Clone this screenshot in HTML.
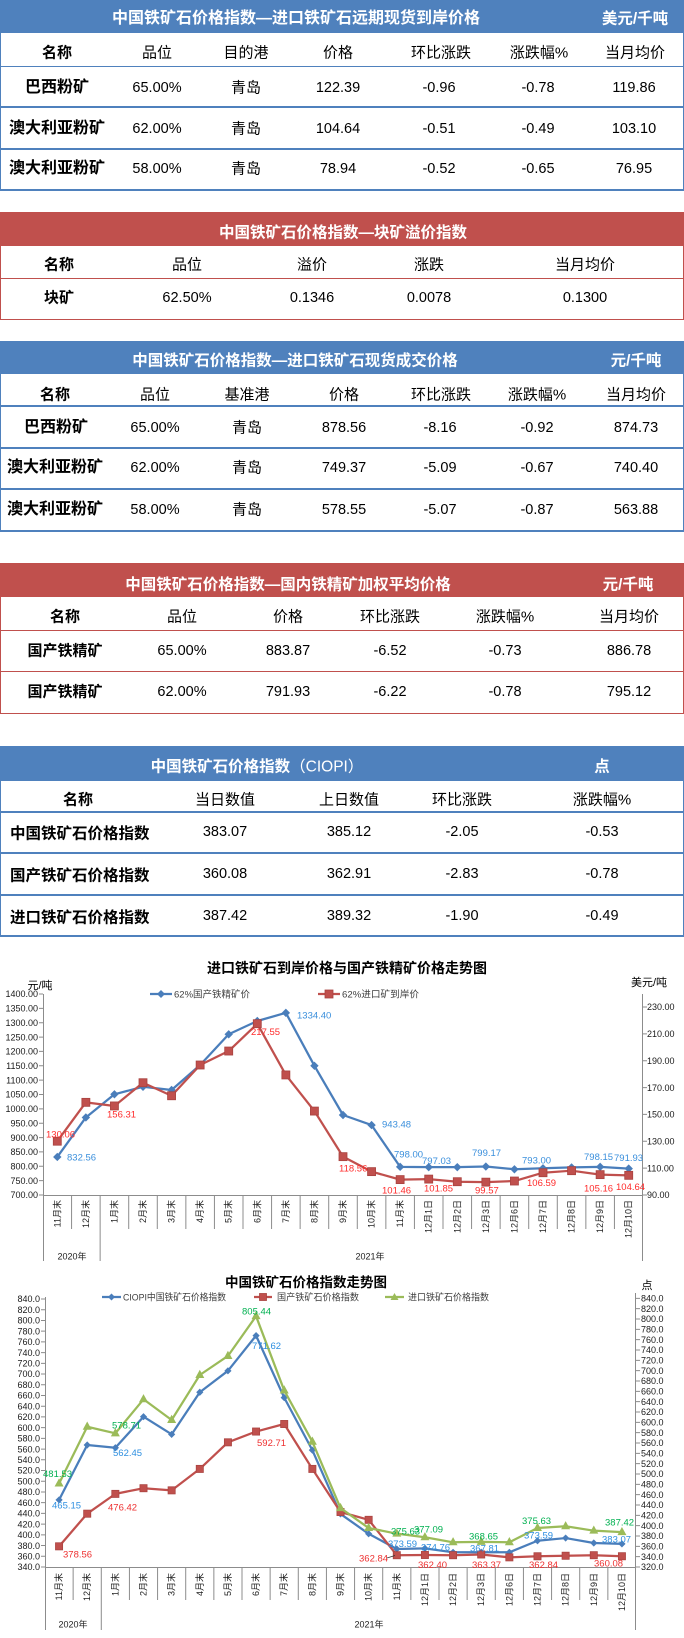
<!DOCTYPE html>
<html><head><meta charset="utf-8">
<style>
body{margin:0;background:#fff}
#p{position:relative;width:684px;height:1638px;overflow:hidden;background:#fff;font-family:"Liberation Sans","Noto Sans CJK SC",sans-serif;color:#000}
.bar{position:absolute;left:0;width:684px}
.blue{background:#4f81bd}
.red{background:#c0504d}
.bx{position:absolute;left:0;width:684px;box-sizing:border-box}
.bb{border-left:1px solid #4f81bd;border-right:1px solid #4f81bd;border-bottom:2px solid #4f81bd}
.rb{border-left:1px solid #c0504d;border-right:1px solid #c0504d;border-bottom:1px solid #c0504d}
.hl{position:absolute;left:0;width:684px}
.c{position:absolute;transform:translate(-50%,-50%);white-space:nowrap;line-height:1;font-size:15px}
.l{position:absolute;transform:translate(0,-50%);white-space:nowrap;line-height:1;font-size:15.5px;font-weight:bold}
.tt{color:#fff;font-weight:bold;font-size:15.5px}
.b{font-weight:bold}
.n{font-size:14.5px}
</style></head><body><div id="p">

<!-- Table 1 -->
<div class="bar blue" style="top:0;height:33px"></div>
<div class="bx bb" style="top:33px;height:158px"></div>
<div class="hl" style="top:66px;height:1px;background:#4f81bd"></div>
<div class="hl" style="top:106px;height:2px;background:#4f81bd"></div>
<div class="hl" style="top:148px;height:2px;background:#4f81bd"></div>
<div class="c tt" style="left:296px;top:19px;font-size:16px">中国铁矿石价格指数—进口铁矿石远期现货到岸价格</div>
<div class="c tt" style="left:635px;top:19px">美元/千吨</div>
<div class="c b" style="left:57px;top:53px">名称</div>
<div class="c" style="left:157px;top:53px">品位</div>
<div class="c" style="left:246px;top:53px">目的港</div>
<div class="c" style="left:338px;top:53px">价格</div>
<div class="c" style="left:441px;top:53px">环比涨跌</div>
<div class="c" style="left:539px;top:53px">涨跌幅%</div>
<div class="c" style="left:635px;top:53px">当月均价</div>
<div class="c b" style="left:57px;top:88px;font-size:16px">巴西粉矿</div>
<div class="c n" style="left:157px;top:88px">65.00%</div>
<div class="c" style="left:246px;top:88px">青岛</div>
<div class="c n" style="left:338px;top:88px">122.39</div>
<div class="c n" style="left:439px;top:88px">-0.96</div>
<div class="c n" style="left:538px;top:88px">-0.78</div>
<div class="c n" style="left:634px;top:88px">119.86</div>
<div class="c b" style="left:57px;top:129px;font-size:16px">澳大利亚粉矿</div>
<div class="c n" style="left:157px;top:129px">62.00%</div>
<div class="c" style="left:246px;top:129px">青岛</div>
<div class="c n" style="left:338px;top:129px">104.64</div>
<div class="c n" style="left:439px;top:129px">-0.51</div>
<div class="c n" style="left:538px;top:129px">-0.49</div>
<div class="c n" style="left:634px;top:129px">103.10</div>
<div class="c b" style="left:57px;top:169px;font-size:16px">澳大利亚粉矿</div>
<div class="c n" style="left:157px;top:169px">58.00%</div>
<div class="c" style="left:246px;top:169px">青岛</div>
<div class="c n" style="left:338px;top:169px">78.94</div>
<div class="c n" style="left:439px;top:169px">-0.52</div>
<div class="c n" style="left:538px;top:169px">-0.65</div>
<div class="c n" style="left:634px;top:169px">76.95</div>

<!-- Table 2 -->
<div class="bar red" style="top:212px;height:34px"></div>
<div class="bx rb" style="top:246px;height:74px"></div>
<div class="hl" style="top:278px;height:1px;background:#c0504d"></div>
<div class="c tt" style="left:343px;top:233px">中国铁矿石价格指数—块矿溢价指数</div>
<div class="c b" style="left:59px;top:265px">名称</div>
<div class="c" style="left:187px;top:265px">品位</div>
<div class="c" style="left:312px;top:265px">溢价</div>
<div class="c" style="left:429px;top:265px">涨跌</div>
<div class="c" style="left:585px;top:265px">当月均价</div>
<div class="c b" style="left:59px;top:298px">块矿</div>
<div class="c n" style="left:187px;top:298px">62.50%</div>
<div class="c n" style="left:312px;top:298px">0.1346</div>
<div class="c n" style="left:429px;top:298px">0.0078</div>
<div class="c n" style="left:585px;top:298px">0.1300</div>

<!-- Table 3 -->
<div class="bar blue" style="top:341px;height:33px"></div>
<div class="bx bb" style="top:374px;height:158px"></div>
<div class="hl" style="top:405px;height:2px;background:#4f81bd"></div>
<div class="hl" style="top:447px;height:2px;background:#4f81bd"></div>
<div class="hl" style="top:488px;height:2px;background:#4f81bd"></div>
<div class="c tt" style="left:295px;top:361px">中国铁矿石价格指数—进口铁矿石现货成交价格</div>
<div class="c tt" style="left:636px;top:361px">元/千吨</div>
<div class="c b" style="left:55px;top:395px">名称</div>
<div class="c" style="left:155px;top:395px">品位</div>
<div class="c" style="left:247px;top:395px">基准港</div>
<div class="c" style="left:344px;top:395px">价格</div>
<div class="c" style="left:441px;top:395px">环比涨跌</div>
<div class="c" style="left:537px;top:395px">涨跌幅%</div>
<div class="c" style="left:636px;top:395px">当月均价</div>
<div class="c b" style="left:56px;top:428px;font-size:16px">巴西粉矿</div>
<div class="c n" style="left:155px;top:428px">65.00%</div>
<div class="c" style="left:247px;top:428px">青岛</div>
<div class="c n" style="left:344px;top:428px">878.56</div>
<div class="c n" style="left:440px;top:428px">-8.16</div>
<div class="c n" style="left:537px;top:428px">-0.92</div>
<div class="c n" style="left:636px;top:428px">874.73</div>
<div class="c b" style="left:55px;top:468px;font-size:16px">澳大利亚粉矿</div>
<div class="c n" style="left:155px;top:468px">62.00%</div>
<div class="c" style="left:247px;top:468px">青岛</div>
<div class="c n" style="left:344px;top:468px">749.37</div>
<div class="c n" style="left:440px;top:468px">-5.09</div>
<div class="c n" style="left:537px;top:468px">-0.67</div>
<div class="c n" style="left:636px;top:468px">740.40</div>
<div class="c b" style="left:55px;top:510px;font-size:16px">澳大利亚粉矿</div>
<div class="c n" style="left:155px;top:510px">58.00%</div>
<div class="c" style="left:247px;top:510px">青岛</div>
<div class="c n" style="left:344px;top:510px">578.55</div>
<div class="c n" style="left:440px;top:510px">-5.07</div>
<div class="c n" style="left:537px;top:510px">-0.87</div>
<div class="c n" style="left:636px;top:510px">563.88</div>

<!-- Table 4 -->
<div class="bar red" style="top:563px;height:34px"></div>
<div class="bx rb" style="top:597px;height:117px"></div>
<div class="hl" style="top:630px;height:1px;background:#c0504d"></div>
<div class="hl" style="top:671px;height:1px;background:#c0504d"></div>
<div class="c tt" style="left:288px;top:585px">中国铁矿石价格指数—国内铁精矿加权平均价格</div>
<div class="c tt" style="left:628px;top:585px">元/千吨</div>
<div class="c b" style="left:65px;top:617px">名称</div>
<div class="c" style="left:182px;top:617px">品位</div>
<div class="c" style="left:288px;top:617px">价格</div>
<div class="c" style="left:390px;top:617px">环比涨跌</div>
<div class="c" style="left:505px;top:617px">涨跌幅%</div>
<div class="c" style="left:629px;top:617px">当月均价</div>
<div class="c b" style="left:65px;top:651px">国产铁精矿</div>
<div class="c n" style="left:182px;top:651px">65.00%</div>
<div class="c n" style="left:288px;top:651px">883.87</div>
<div class="c n" style="left:390px;top:651px">-6.52</div>
<div class="c n" style="left:505px;top:651px">-0.73</div>
<div class="c n" style="left:629px;top:651px">886.78</div>
<div class="c b" style="left:65px;top:692px">国产铁精矿</div>
<div class="c n" style="left:182px;top:692px">62.00%</div>
<div class="c n" style="left:288px;top:692px">791.93</div>
<div class="c n" style="left:390px;top:692px">-6.22</div>
<div class="c n" style="left:505px;top:692px">-0.78</div>
<div class="c n" style="left:629px;top:692px">795.12</div>

<!-- Table 5 -->
<div class="bar blue" style="top:746px;height:35px"></div>
<div class="bx bb" style="top:781px;height:156px"></div>
<div class="hl" style="top:811px;height:2px;background:#4f81bd"></div>
<div class="hl" style="top:852px;height:2px;background:#4f81bd"></div>
<div class="hl" style="top:894px;height:2px;background:#4f81bd"></div>
<div class="c tt" style="left:257px;top:767px">中国铁矿石价格指数<span style="font-weight:normal">（CIOPI）</span></div>
<div class="c tt" style="left:602px;top:767px">点</div>
<div class="c b" style="left:78px;top:800px">名称</div>
<div class="c" style="left:225px;top:800px">当日数值</div>
<div class="c" style="left:349px;top:800px">上日数值</div>
<div class="c" style="left:462px;top:800px">环比涨跌</div>
<div class="c" style="left:602px;top:800px">涨跌幅%</div>
<div class="l" style="left:10px;top:834px">中国铁矿石价格指数</div>
<div class="c n" style="left:225px;top:832px">383.07</div>
<div class="c n" style="left:349px;top:832px">385.12</div>
<div class="c n" style="left:462px;top:832px">-2.05</div>
<div class="c n" style="left:602px;top:832px">-0.53</div>
<div class="l" style="left:10px;top:876px">国产铁矿石价格指数</div>
<div class="c n" style="left:225px;top:874px">360.08</div>
<div class="c n" style="left:349px;top:874px">362.91</div>
<div class="c n" style="left:462px;top:874px">-2.83</div>
<div class="c n" style="left:602px;top:874px">-0.78</div>
<div class="l" style="left:10px;top:918px">进口铁矿石价格指数</div>
<div class="c n" style="left:225px;top:916px">387.42</div>
<div class="c n" style="left:349px;top:916px">389.32</div>
<div class="c n" style="left:462px;top:916px">-1.90</div>
<div class="c n" style="left:602px;top:916px">-0.49</div>

<svg width="684" height="1638" style="position:absolute;left:0;top:0" font-family="Liberation Sans, Noto Sans CJK SC, sans-serif">
<defs>
<marker id="md" markerUnits="userSpaceOnUse" markerWidth="10" markerHeight="10" refX="5" refY="5" viewBox="0 0 10 10"><path d="M5,0.8 L9.2,5 5,9.2 0.8,5Z" fill="#4a7ebb"/></marker>
<marker id="md2" markerUnits="userSpaceOnUse" markerWidth="8" markerHeight="8" refX="5" refY="5" viewBox="0 0 10 10"><path d="M5,0.5 L9.5,5 5,9.5 0.5,5Z" fill="#4a7ebb"/></marker>
<marker id="ms" markerUnits="userSpaceOnUse" markerWidth="10" markerHeight="10" refX="5" refY="5" viewBox="0 0 10 10"><rect x="1" y="1" width="8" height="8" fill="#c0504d" stroke="#a8423f" stroke-width="0.8"/></marker>
<marker id="ms2" markerUnits="userSpaceOnUse" markerWidth="9" markerHeight="9" refX="5" refY="5" viewBox="0 0 10 10"><rect x="1" y="1" width="8" height="8" fill="#c0504d" stroke="#a8423f" stroke-width="0.8"/></marker>
<marker id="mt" markerUnits="userSpaceOnUse" markerWidth="10" markerHeight="10" refX="5" refY="6" viewBox="0 0 10 10"><path d="M5,0.8 L9.5,9 0.5,9Z" fill="#9bbb59"/></marker>
</defs>

<!-- ============ CHART 1 ============ -->
<text x="347" y="973" text-anchor="middle" font-size="14" font-weight="bold" fill="#000">进口铁矿石到岸价格与国产铁精矿价格走势图</text>
<text x="40" y="989" text-anchor="middle" font-size="11" fill="#000">元/吨</text>
<text x="649" y="986" text-anchor="middle" font-size="11" fill="#000">美元/吨</text>
<!-- legend -->
<line x1="150" y1="994" x2="172" y2="994" stroke="#4a7ebb" stroke-width="2.25"/>
<path d="M161,990 L165,994 161,998 157,994Z" fill="#4a7ebb"/>
<text x="174" y="997.5" font-size="9.5" fill="#404040" textLength="76" lengthAdjust="spacingAndGlyphs">62%国产铁精矿价</text>
<line x1="318" y1="994" x2="340" y2="994" stroke="#c0504d" stroke-width="2.25"/>
<rect x="325" y="990" width="8" height="8" fill="#c0504d" stroke="#a8423f" stroke-width="0.8"/>
<text x="342" y="997.5" font-size="9.5" fill="#404040" textLength="77" lengthAdjust="spacingAndGlyphs">62%进口矿到岸价</text>
<!-- axes -->
<g stroke="#8c8c8c" stroke-width="1" fill="none">
<path d="M43.5,994V1261M642.5,994V1261M43,1195.5H643M100.14,1195V1261"/>
<path d="M71.57,1195V1229M128.71,1195V1229M157.29,1195V1229M185.86,1195V1229M214.43,1195V1229M243,1195V1229M271.57,1195V1229M300.14,1195V1229M328.71,1195V1229M357.29,1195V1229M385.86,1195V1229M414.43,1195V1229M443,1195V1229M471.57,1195V1229M500.14,1195V1229M528.71,1195V1229M557.29,1195V1229M585.86,1195V1229M614.43,1195V1229"/>
<path d="M39,994H43M39,1008.36H43M39,1022.72H43M39,1037.07H43M39,1051.43H43M39,1065.79H43M39,1080.14H43M39,1094.5H43M39,1108.86H43M39,1123.22H43M39,1137.57H43M39,1151.93H43M39,1166.29H43M39,1180.64H43M39,1195H43"/>
<path d="M643,1195H647M643,1168.14H647M643,1141.28H647M643,1114.43H647M643,1087.57H647M643,1060.71H647M643,1033.86H647M643,1007H647"/>
</g>
<g font-size="9" fill="#1a1a1a" text-anchor="end">
<text x="38" y="997.2">1400.00</text><text x="38" y="1011.6">1350.00</text><text x="38" y="1025.9">1300.00</text><text x="38" y="1040.3">1250.00</text><text x="38" y="1054.6">1200.00</text><text x="38" y="1069">1150.00</text><text x="38" y="1083.3">1100.00</text><text x="38" y="1097.7">1050.00</text><text x="38" y="1112.1">1000.00</text><text x="38" y="1126.4">950.00</text><text x="38" y="1140.8">900.00</text><text x="38" y="1155.1">850.00</text><text x="38" y="1169.5">800.00</text><text x="38" y="1183.8">750.00</text><text x="38" y="1198.2">700.00</text>
</g>
<g font-size="9" fill="#1a1a1a">
<text x="647" y="1198.2">90.00</text><text x="647" y="1171.3">110.00</text><text x="647" y="1144.5">130.00</text><text x="647" y="1117.6">150.00</text><text x="647" y="1090.8">170.00</text><text x="647" y="1063.9">190.00</text><text x="647" y="1037.1">210.00</text><text x="647" y="1010.2">230.00</text>
</g>
<g font-size="9" fill="#222" text-anchor="end" dominant-baseline="central">
<text transform="translate(57.29,1200) rotate(-90)">11月末</text>
<text transform="translate(85.86,1200) rotate(-90)">12月末</text>
<text transform="translate(114.43,1200) rotate(-90)">1月末</text>
<text transform="translate(143,1200) rotate(-90)">2月末</text>
<text transform="translate(171.57,1200) rotate(-90)">3月末</text>
<text transform="translate(200.14,1200) rotate(-90)">4月末</text>
<text transform="translate(228.71,1200) rotate(-90)">5月末</text>
<text transform="translate(257.29,1200) rotate(-90)">6月末</text>
<text transform="translate(285.86,1200) rotate(-90)">7月末</text>
<text transform="translate(314.43,1200) rotate(-90)">8月末</text>
<text transform="translate(343,1200) rotate(-90)">9月末</text>
<text transform="translate(371.57,1200) rotate(-90)">10月末</text>
<text transform="translate(400.14,1200) rotate(-90)">11月末</text>
<text transform="translate(428.71,1200) rotate(-90)">12月1日</text>
<text transform="translate(457.29,1200) rotate(-90)">12月2日</text>
<text transform="translate(485.86,1200) rotate(-90)">12月3日</text>
<text transform="translate(514.43,1200) rotate(-90)">12月6日</text>
<text transform="translate(543,1200) rotate(-90)">12月7日</text>
<text transform="translate(571.57,1200) rotate(-90)">12月8日</text>
<text transform="translate(600.14,1200) rotate(-90)">12月9日</text>
<text transform="translate(628.71,1200) rotate(-90)">12月10日</text>
</g>
<text x="72" y="1259.5" font-size="9" fill="#222" text-anchor="middle">2020年</text>
<text x="370" y="1259.5" font-size="9" fill="#222" text-anchor="middle">2021年</text>
<!-- series -->
<polyline fill="none" stroke="#4a7ebb" stroke-width="2.25" stroke-linejoin="round" marker-start="url(#md)" marker-mid="url(#md)" marker-end="url(#md)" points="57.29,1156.94 85.86,1117.47 114.43,1094.3 143,1086.75 171.57,1089.99 200.14,1064.98 228.71,1034.29 257.29,1020.99 285.86,1012.84 314.43,1065.79 343,1115 371.57,1125.09 400.14,1166.86 428.71,1167.14 457.29,1167.15 485.86,1166.52 514.43,1169.3 543,1168.3 571.57,1167.43 600.14,1166.82 628.71,1168.6"/>
<polyline fill="none" stroke="#c0504d" stroke-width="2.25" stroke-linejoin="round" marker-start="url(#ms)" marker-mid="url(#ms)" marker-end="url(#ms)" points="57.29,1141.2 85.86,1102.34 114.43,1105.95 143,1082.73 171.57,1095.76 200.14,1065.01 228.71,1051.04 257.29,1023.71 285.86,1074.94 314.43,1111.07 343,1156.65 371.57,1171.63 400.14,1179.61 428.71,1179.09 457.29,1181.71 485.86,1182.15 514.43,1181.03 543,1172.72 571.57,1170.69 600.14,1174.64 628.71,1175.34"/>
<g font-size="9.5" fill="#3a8fdc">
<text x="67" y="1160.3">832.56</text>
<text x="297" y="1018.3">1334.40</text>
<text x="382" y="1127.3">943.48</text>
<text x="394" y="1157.3">798.00</text>
<text x="422" y="1164">797.03</text>
<text x="472" y="1156">799.17</text>
<text x="522" y="1163.3">793.00</text>
<text x="584" y="1160">798.15</text>
<text x="614" y="1161">791.93</text>
</g>
<g font-size="9.5" fill="#ff2a2a">
<text x="46" y="1137.3">130.06</text>
<text x="107" y="1117.3">156.31</text>
<text x="251" y="1035">217.55</text>
<text x="339" y="1171.3">118.56</text>
<text x="382" y="1193.3">101.46</text>
<text x="424" y="1191.6">101.85</text>
<text x="475" y="1193.3">99.57</text>
<text x="527" y="1186">106.59</text>
<text x="584" y="1191.6">105.16</text>
<text x="616" y="1190">104.64</text>
</g>

<!-- ============ CHART 2 ============ -->
<text x="306" y="1287" text-anchor="middle" font-size="13.5" font-weight="bold" fill="#000">中国铁矿石价格指数走势图</text>
<text x="647" y="1289" text-anchor="middle" font-size="11" fill="#000">点</text>
<!-- legend -->
<line x1="102" y1="1297" x2="121" y2="1297" stroke="#4a7ebb" stroke-width="2.25"/>
<path d="M111.5,1293.5 L115,1297 111.5,1300.5 108,1297Z" fill="#4a7ebb"/>
<text x="123" y="1300.4" font-size="9.5" fill="#404040" textLength="103" lengthAdjust="spacingAndGlyphs">CIOPI中国铁矿石价格指数</text>
<line x1="254" y1="1297" x2="272" y2="1297" stroke="#c0504d" stroke-width="2.25"/>
<rect x="259.5" y="1293.5" width="7" height="7" fill="#c0504d" stroke="#a8423f" stroke-width="0.8"/>
<text x="277" y="1300.4" font-size="9.5" fill="#404040" textLength="82" lengthAdjust="spacingAndGlyphs">国产铁矿石价格指数</text>
<line x1="385" y1="1297" x2="404" y2="1297" stroke="#9bbb59" stroke-width="2.25"/>
<path d="M394.5,1293 L398.5,1300 390.5,1300Z" fill="#9bbb59"/>
<text x="408" y="1300.4" font-size="9.5" fill="#404040" textLength="81" lengthAdjust="spacingAndGlyphs">进口铁矿石价格指数</text>
<!-- axes -->
<g stroke="#8c8c8c" stroke-width="1" fill="none">
<path d="M45.5,1297V1630M635.5,1293V1630M45,1567.5H636M101.29,1567V1630"/>
<path d="M73.14,1567V1600M129.43,1567V1600M157.57,1567V1600M185.71,1567V1600M213.86,1567V1600M242,1567V1600M270.14,1567V1600M298.29,1567V1600M326.43,1567V1600M354.57,1567V1600M382.71,1567V1600M410.86,1567V1600M439,1567V1600M467.14,1567V1600M495.29,1567V1600M523.43,1567V1600M551.57,1567V1600M579.71,1567V1600M607.86,1567V1600"/>
<path d="M41,1299H45M41,1309.72H45M41,1320.44H45M41,1331.16H45M41,1341.88H45M41,1352.6H45M41,1363.32H45M41,1374.04H45M41,1384.76H45M41,1395.48H45M41,1406.2H45M41,1416.92H45M41,1427.64H45M41,1438.36H45M41,1449.08H45M41,1459.8H45M41,1470.52H45M41,1481.24H45M41,1491.96H45M41,1502.68H45M41,1513.4H45M41,1524.12H45M41,1534.84H45M41,1545.56H45M41,1556.28H45M41,1567H45"/>
<path d="M636,1298.32H640M636,1308.65H640M636,1318.99H640M636,1329.32H640M636,1339.65H640M636,1349.99H640M636,1360.32H640M636,1370.65H640M636,1380.99H640M636,1391.32H640M636,1401.66H640M636,1411.99H640M636,1422.32H640M636,1432.66H640M636,1442.99H640M636,1453.33H640M636,1463.66H640M636,1473.99H640M636,1484.33H640M636,1494.66H640M636,1504.99H640M636,1515.33H640M636,1525.66H640M636,1535.99H640M636,1546.33H640M636,1556.66H640M636,1567H640"/>
</g>
<g font-size="9" fill="#1a1a1a" text-anchor="end">
<text x="40" y="1302.2">840.0</text><text x="40" y="1312.9">820.0</text><text x="40" y="1323.6">800.0</text><text x="40" y="1334.4">780.0</text><text x="40" y="1345.1">760.0</text><text x="40" y="1355.8">740.0</text><text x="40" y="1366.5">720.0</text><text x="40" y="1377.2">700.0</text><text x="40" y="1388">680.0</text><text x="40" y="1398.7">660.0</text><text x="40" y="1409.4">640.0</text><text x="40" y="1420.1">620.0</text><text x="40" y="1430.8">600.0</text><text x="40" y="1441.6">580.0</text><text x="40" y="1452.3">560.0</text><text x="40" y="1463">540.0</text><text x="40" y="1473.7">520.0</text><text x="40" y="1484.4">500.0</text><text x="40" y="1495.2">480.0</text><text x="40" y="1505.9">460.0</text><text x="40" y="1516.6">440.0</text><text x="40" y="1527.3">420.0</text><text x="40" y="1538">400.0</text><text x="40" y="1548.8">380.0</text><text x="40" y="1559.5">360.0</text><text x="40" y="1570.2">340.0</text>
</g>
<g font-size="9" fill="#1a1a1a">
<text x="641" y="1301.5">840.0</text><text x="641" y="1311.9">820.0</text><text x="641" y="1322.2">800.0</text><text x="641" y="1332.5">780.0</text><text x="641" y="1342.9">760.0</text><text x="641" y="1353.2">740.0</text><text x="641" y="1363.5">720.0</text><text x="641" y="1373.9">700.0</text><text x="641" y="1384.2">680.0</text><text x="641" y="1394.5">660.0</text><text x="641" y="1404.9">640.0</text><text x="641" y="1415.2">620.0</text><text x="641" y="1425.5">600.0</text><text x="641" y="1435.9">580.0</text><text x="641" y="1446.2">560.0</text><text x="641" y="1456.5">540.0</text><text x="641" y="1466.9">520.0</text><text x="641" y="1477.2">500.0</text><text x="641" y="1487.5">480.0</text><text x="641" y="1497.9">460.0</text><text x="641" y="1508.2">440.0</text><text x="641" y="1518.5">420.0</text><text x="641" y="1528.9">400.0</text><text x="641" y="1539.2">380.0</text><text x="641" y="1549.5">360.0</text><text x="641" y="1559.9">340.0</text><text x="641" y="1570.2">320.0</text>
</g>
<g font-size="9" fill="#222" text-anchor="end" dominant-baseline="central">
<text transform="translate(59.07,1573) rotate(-90)">11月末</text>
<text transform="translate(87.21,1573) rotate(-90)">12月末</text>
<text transform="translate(115.36,1573) rotate(-90)">1月末</text>
<text transform="translate(143.5,1573) rotate(-90)">2月末</text>
<text transform="translate(171.64,1573) rotate(-90)">3月末</text>
<text transform="translate(199.79,1573) rotate(-90)">4月末</text>
<text transform="translate(227.93,1573) rotate(-90)">5月末</text>
<text transform="translate(256.07,1573) rotate(-90)">6月末</text>
<text transform="translate(284.21,1573) rotate(-90)">7月末</text>
<text transform="translate(312.36,1573) rotate(-90)">8月末</text>
<text transform="translate(340.5,1573) rotate(-90)">9月末</text>
<text transform="translate(368.64,1573) rotate(-90)">10月末</text>
<text transform="translate(396.79,1573) rotate(-90)">11月末</text>
<text transform="translate(424.93,1573) rotate(-90)">12月1日</text>
<text transform="translate(453.07,1573) rotate(-90)">12月2日</text>
<text transform="translate(481.21,1573) rotate(-90)">12月3日</text>
<text transform="translate(509.36,1573) rotate(-90)">12月6日</text>
<text transform="translate(537.5,1573) rotate(-90)">12月7日</text>
<text transform="translate(565.64,1573) rotate(-90)">12月8日</text>
<text transform="translate(593.79,1573) rotate(-90)">12月9日</text>
<text transform="translate(621.93,1573) rotate(-90)">12月10日</text>
</g>
<text x="73" y="1627.5" font-size="9" fill="#222" text-anchor="middle">2020年</text>
<text x="369" y="1627.5" font-size="9" fill="#222" text-anchor="middle">2021年</text>
<!-- series -->
<polyline fill="none" stroke="#4a7ebb" stroke-width="2.25" stroke-linejoin="round" marker-start="url(#md2)" marker-mid="url(#md2)" marker-end="url(#md2)" points="59.07,1499.92 87.21,1445 115.36,1447.77 143.5,1416.71 171.64,1434.34 199.79,1392.26 227.93,1370.82 256.07,1335.65 284.21,1397.62 312.36,1450.15 340.5,1513.94 368.64,1533.77 396.79,1549 424.93,1548.37 453.07,1552.31 481.21,1552.26 509.36,1552.31 537.5,1540.74 565.64,1538.06 593.79,1542.99 621.93,1543.91"/>
<polyline fill="none" stroke="#c0504d" stroke-width="2.25" stroke-linejoin="round" marker-start="url(#ms2)" marker-mid="url(#ms2)" marker-end="url(#ms2)" points="59.07,1546.33 87.21,1513.67 115.36,1493.88 143.5,1488.21 171.64,1490.35 199.79,1468.91 227.93,1442.33 256.07,1431.55 284.21,1424 312.36,1468.91 340.5,1512.01 368.64,1519.83 396.79,1555.21 424.93,1554.99 453.07,1555.21 481.21,1554.47 509.36,1557.35 537.5,1556.28 565.64,1555.74 593.79,1555.21 621.93,1556.24"/>
<polyline fill="none" stroke="#9bbb59" stroke-width="2.25" stroke-linejoin="round" marker-start="url(#mt)" marker-mid="url(#mt)" marker-end="url(#mt)" points="59.07,1483.54 87.21,1426.72 115.36,1433.33 143.5,1399.28 171.64,1420 199.79,1375 227.93,1355.98 256.07,1316.17 284.21,1390.44 312.36,1441.7 340.5,1508.1 368.64,1527.99 396.79,1533.67 424.93,1537.29 453.07,1542.3 481.21,1541.86 509.36,1542.2 537.5,1527.99 565.64,1526.28 593.79,1530.68 621.93,1532.16"/>
<g font-size="9.5" fill="#00b050">
<text x="242" y="1314.3">805.44</text>
<text x="112" y="1428.3">578.71</text>
<text x="43" y="1477">481.53</text>
<text x="391" y="1534.6">375.63</text>
<text x="414" y="1532.3">377.09</text>
<text x="469" y="1539.6">368.65</text>
<text x="522" y="1524">375.63</text>
<text x="605" y="1525.3">387.42</text>
</g>
<g font-size="9.5" fill="#2e8fe0">
<text x="252" y="1349">771.62</text>
<text x="113" y="1456">562.45</text>
<text x="52" y="1508.6">465.15</text>
<text x="388" y="1547">373.59</text>
<text x="421" y="1550.6">374.76</text>
<text x="470" y="1551.3">367.81</text>
<text x="524" y="1538.6">373.59</text>
<text x="602" y="1542.3">383.07</text>
</g>
<g font-size="9.5" fill="#ee3030">
<text x="257" y="1446">592.71</text>
<text x="108" y="1510.3">476.42</text>
<text x="63" y="1557.3">378.56</text>
<text x="359" y="1561.3">362.84</text>
<text x="418" y="1568">362.40</text>
<text x="472" y="1568">363.37</text>
<text x="529" y="1568">362.84</text>
<text x="594" y="1566.3">360.08</text>
</g>
<line x1="387" y1="1558" x2="395" y2="1555.5" stroke="#333" stroke-width="0.8"/>
</svg>
</div></body></html>
